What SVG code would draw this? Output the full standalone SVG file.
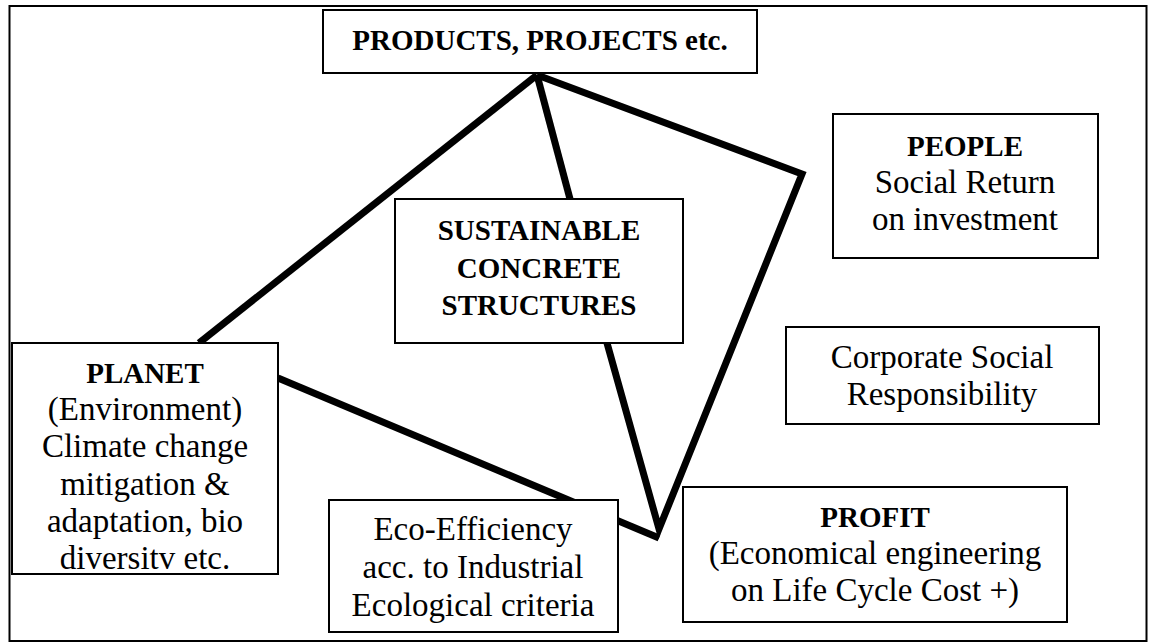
<svg xmlns="http://www.w3.org/2000/svg" width="1149" height="643" viewBox="0 0 1149 643">
<defs>
<style>
.box{fill:#fff;stroke:#000;stroke-width:2}
.t{font-family:"Liberation Serif","DejaVu Serif",serif;font-size:33px;fill:#000;text-anchor:middle}
.b{font-weight:bold;font-size:29px}
.ln{fill:none;stroke:#000;stroke-width:7;stroke-linejoin:miter}
</style>
<clipPath id="cPlanet"><rect x="13" y="344" width="264" height="227"/></clipPath>
<clipPath id="cEco"><rect x="330" y="501" width="287" height="124"/></clipPath>
</defs>
<rect x="0" y="0" width="1149" height="643" fill="#fff"/>
<rect x="9.5" y="6" width="1137" height="635" fill="none" stroke="#000" stroke-width="2"/>
<g id="connectors">
<line class="ln" x1="537" y1="75" x2="199" y2="343"/>
<line class="ln" x1="537" y1="75" x2="570" y2="199"/>
<polyline class="ln" points="537,75 802,174 659,529 607,343"/>
<line class="ln" x1="278" y1="378" x2="659" y2="538"/>
</g>
<g id="products">
<rect class="box" x="323" y="10" width="434" height="63"/>
<text class="t b" x="540" y="50">PRODUCTS, PROJECTS etc.</text>
</g>
<g id="sustainable">
<rect class="box" x="395" y="199" width="288" height="144"/>
<text class="t b" x="539" y="240">SUSTAINABLE</text>
<text class="t b" x="539" y="278">CONCRETE</text>
<text class="t b" x="539" y="315">STRUCTURES</text>
</g>
<g id="people">
<rect class="box" x="833" y="114" width="265" height="144"/>
<text class="t b" x="965" y="156">PEOPLE</text>
<text class="t" x="965" y="193">Social Return</text>
<text class="t" x="965" y="230">on investment</text>
</g>
<g id="csr">
<rect class="box" x="786" y="327" width="313" height="97"/>
<text class="t" x="942" y="368">Corporate Social</text>
<text class="t" x="942" y="405">Responsibility</text>
</g>
<g id="planet">
<rect class="box" x="12" y="343" width="266" height="231"/>
<g clip-path="url(#cPlanet)">
<text class="t b" x="145" y="383">PLANET</text>
<text class="t" x="145" y="420">(Environment)</text>
<text class="t" x="145" y="457">Climate change</text>
<text class="t" x="145" y="495">mitigation &amp;</text>
<text class="t" x="145" y="532">adaptation, bio</text>
<text class="t" x="145" y="569">diversitv etc.</text>
</g>
</g>
<g id="eco">
<rect class="box" x="329" y="500" width="289" height="132"/>
<g clip-path="url(#cEco)">
<text class="t" x="473" y="540">Eco-Efficiency</text>
<text class="t" x="473" y="578">acc. to Industrial</text>
<text class="t" x="473" y="616">Ecological criteria</text>
</g>
</g>
<g id="profit">
<rect class="box" x="683" y="487" width="384" height="135"/>
<text class="t b" x="875" y="527">PROFIT</text>
<text class="t" x="875" y="564">(Economical engineering</text>
<text class="t" x="875" y="601">on Life Cycle Cost +)</text>
</g>
</svg>
